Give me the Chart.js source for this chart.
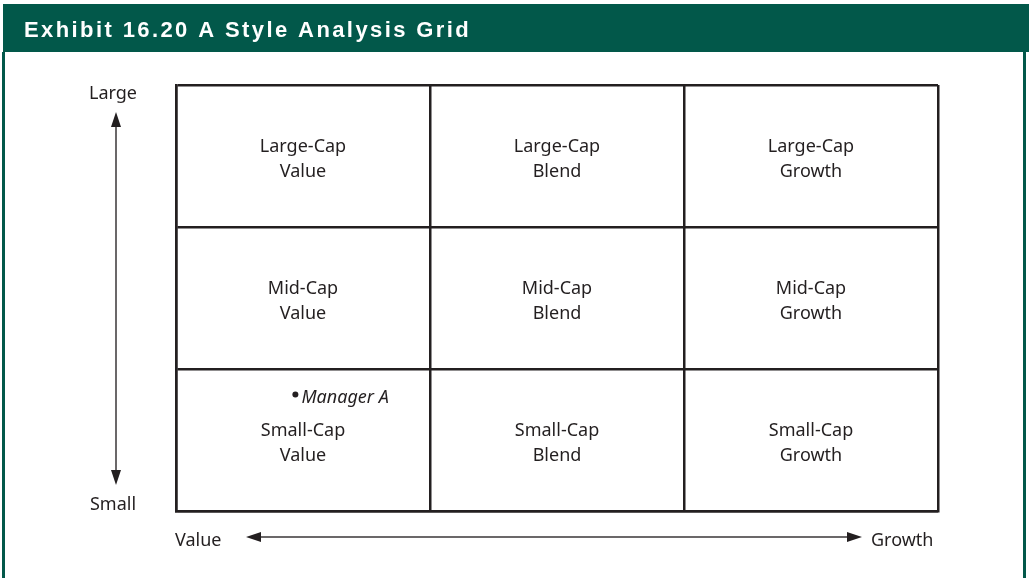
<!DOCTYPE html>
<html>
<head>
<meta charset="utf-8">
<script src="https://cdn.jsdelivr.net/npm/chart.js@4"></script>
<style>
  html, body { margin: 0; padding: 0; background: #fff; }
  #wrap { width: 1029px; height: 578px; position: relative; }
</style>
</head>
<body>
<div id="wrap"><canvas id="chart"></canvas></div>
<script>
const title = 'Exhibit 16.20 A Style Analysis Grid';
const sizeLabels = ['Small-Cap', 'Mid-Cap', 'Large-Cap'];
const styleLabels = ['Value', 'Blend', 'Growth'];
const sizeAxis = ['Large', 'Small'];
const styleAxis = ['Value', 'Growth'];
const managers = [{ name: 'Manager A', x: 0.47, y: 0.82 }];

const GREEN = '#02584a';
const INK = '#231f20';
const FONT = '"Noto Sans", sans-serif';

// one point per cell, at its centre; labels are drawn there
const cells = [];
sizeLabels.forEach((size, row) => {
  styleLabels.forEach((style, col) => {
    cells.push({ x: col + 0.5, y: row + 0.5, size, style });
  });
});

const arrow = (ctx, x1, y1, x2, y2) => {
  const ang = Math.atan2(y2 - y1, x2 - x1);
  const len = 15;
  const half = 5;
  ctx.beginPath();
  ctx.moveTo(x1, y1);
  ctx.lineTo(x2 - Math.cos(ang) * len, y2 - Math.sin(ang) * len);
  ctx.stroke();
  ctx.beginPath();
  ctx.moveTo(x2, y2);
  ctx.lineTo(x2 - Math.cos(ang) * len - Math.sin(ang) * half, y2 - Math.sin(ang) * len + Math.cos(ang) * half);
  ctx.lineTo(x2 - Math.cos(ang) * len + Math.sin(ang) * half, y2 - Math.sin(ang) * len - Math.cos(ang) * half);
  ctx.closePath();
  ctx.fill();
};

const framePlugin = {
  id: 'frame',
  beforeDraw(chart) {
    const { ctx, width, height } = chart;
    ctx.save();
    ctx.fillStyle = '#fff';
    ctx.fillRect(0, 0, width, height);
    ctx.fillStyle = GREEN;
    ctx.fillRect(3, 4, width - 3, 48);
    ctx.fillRect(2, 52, 3, height - 52);
    ctx.fillRect(1023, 52, 3, height - 52);
    ctx.fillStyle = '#fff';
    ctx.font = 'bold 22px "Liberation Sans", Arial, sans-serif';
    ctx.letterSpacing = '2.4px';
    ctx.textBaseline = 'alphabetic';
    ctx.fillText(title, 24, 37);
    ctx.restore();
  },
  afterDraw(chart) {
    const { ctx, chartArea: a } = chart;
    ctx.save();
    ctx.fillStyle = INK;
    ctx.strokeStyle = '#3a3637';
    ctx.lineWidth = 1.5;
    ctx.font = '18px ' + FONT;
    ctx.textAlign = 'center';

    // size axis on the left
    const vx = 116;
    arrow(ctx, vx, (a.top + a.bottom) / 2, vx, a.top + 27);
    arrow(ctx, vx, (a.top + a.bottom) / 2, vx, a.bottom - 26);
    ctx.fillText(sizeAxis[0], 113, a.top + 14);
    ctx.fillText(sizeAxis[1], 113, a.bottom - 1);

    // style axis below
    const hy = 537;
    arrow(ctx, (a.left + a.right) / 2, hy, 246, hy);
    arrow(ctx, (a.left + a.right) / 2, hy, 862, hy);
    ctx.textAlign = 'left';
    ctx.fillText(styleAxis[0], a.left - 1, hy + 9);
    ctx.fillText(styleAxis[1], 871, hy + 9);

    // cell labels
    ctx.textAlign = 'center';
    chart.getDatasetMeta(0).data.forEach((pt, i) => {
      ctx.fillText(cells[i].size, pt.x, pt.y - 4);
      ctx.fillText(cells[i].style, pt.x, pt.y + 21);
    });

    // manager labels
    ctx.textAlign = 'left';
    ctx.font = 'italic 18px ' + FONT;
    chart.getDatasetMeta(1).data.forEach((pt, i) => {
      ctx.fillText(managers[i].name, pt.x + 6, pt.y + 8);
    });
    ctx.restore();
  },
};

const axis = {
  type: 'linear',
  min: 0,
  max: 3,
  ticks: { stepSize: 1, display: false },
  grid: { color: INK, lineWidth: 2.5, drawTicks: false },
  border: { display: true, color: INK, width: 2.5 },
};

new Chart(document.getElementById('chart'), {
  type: 'scatter',
  data: {
    datasets: [
      {
        data: cells.map((c) => ({ x: c.x, y: c.y })),
        pointRadius: 0,
      },
      {
        data: managers.map((m) => ({ x: m.x, y: m.y })),
        pointRadius: 3,
        backgroundColor: INK,
        borderWidth: 0,
      },
    ],
  },
  options: {
    responsive: true,
    maintainAspectRatio: false,
    animation: false,
    layout: { padding: { left: 176, right: 91, top: 85, bottom: 67 } },
    scales: { x: axis, y: axis },
    plugins: {
      legend: { display: false },
      tooltip: { enabled: false },
    },
  },
  plugins: [framePlugin],
});
</script>
</body>
</html>
